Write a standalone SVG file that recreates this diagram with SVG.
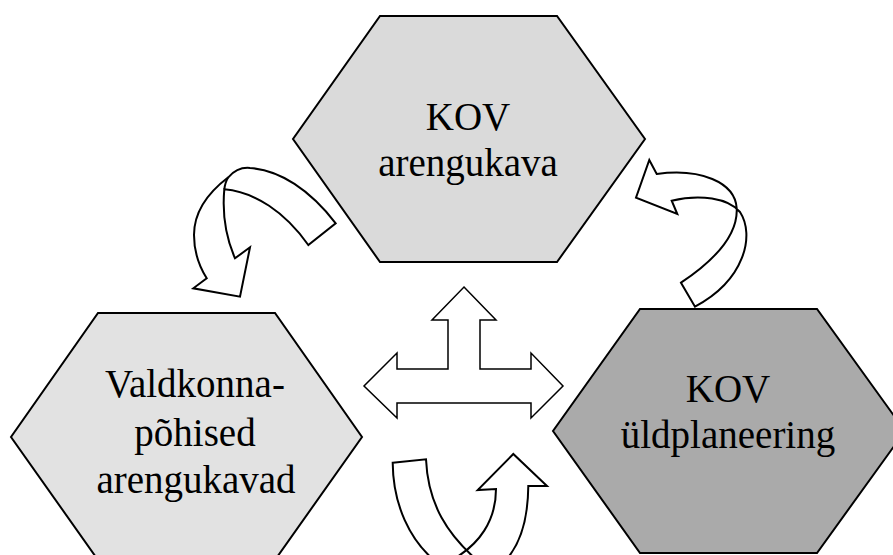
<svg xmlns="http://www.w3.org/2000/svg" width="893" height="555" viewBox="0 0 893 555">
<style>
.hex{stroke:#000;stroke-width:2;stroke-linejoin:miter}
.lbl{font-family:"Liberation Serif","Times New Roman",serif;font-size:39px;fill:#000;text-anchor:middle}
.arr{fill:#fff;stroke:#000;stroke-width:2;stroke-linejoin:miter}
.arr2{fill:#fff;stroke:#000;stroke-width:1.5;stroke-linejoin:miter}
</style>
<rect width="893" height="555" fill="#fff"/>
<g id="node-top">
<polygon class="hex" fill="#dadada" points="380,16 557,16 645,139 557,262 380,262 293,139"/>
<text class="lbl" x="468" y="130">KOV</text>
<text class="lbl" x="468" y="176">arengukava</text>
</g>
<g id="node-left">
<polygon class="hex" fill="#e2e2e2" points="98,313 275,313 362,437 275,560 98,560 11,437"/>
<text class="lbl" x="195" y="397">Valdkonna-</text>
<text class="lbl" x="195" y="446">põhised</text>
<text class="lbl" x="196" y="493">arengukavad</text>
</g>
<g id="node-right">
<polygon class="hex" fill="#aaaaaa" points="640,309 817,309 905,431 817,553 640,553 553,431"/>
<text class="lbl" x="728" y="402">KOV</text>
<text class="lbl" x="728" y="448">üldplaneering</text>
</g>
<g id="connectors">
<path class="arr" d="M335.7,223.3 C310,190 280,170 250,168 C240,167 233,172 228.3,177.3 C205,195 194,215 194,235 C194,252 199,266 206.7,278.3 L193.3,288.3 L240,296.7 L250,247.3 L235,258.3 C227,240 222,215 224.3,189.3 C255,192 285,212 308.3,245 Z"/>
<path class="arr" fill="none" d="M224.3,189.3 C225,184 226.5,180 228.3,177.3"/>
<path class="arr" d="M681,282.7 C715,260 738,235 736.7,208.3 C735,182 700,168 656.7,174 L649.3,160 L636,197.7 L677.3,214 L671.7,200.7 C700,194 728,198 740,212 C755,235 745,280 695,306.7 Z"/>
<path class="arr" d="M392.7,462.7 L426,459.3 C428,505 448,535 478,561 L505,561 C520,545 528,520 528.3,486 L547,486 L513.3,454 L477.7,490 L496,489 C496,520 480,545 450,561 L435,561 C410,540 393,505 392.7,462.7 Z"/>
<polygon class="arr2" points="464,287 496,320 480,320 480,369 531,369 531,353 563,386 531,418 531,403 397,403 397,418 364,386 397,353 397,369 448,369 448,320 432,320"/>
</g>
</svg>
